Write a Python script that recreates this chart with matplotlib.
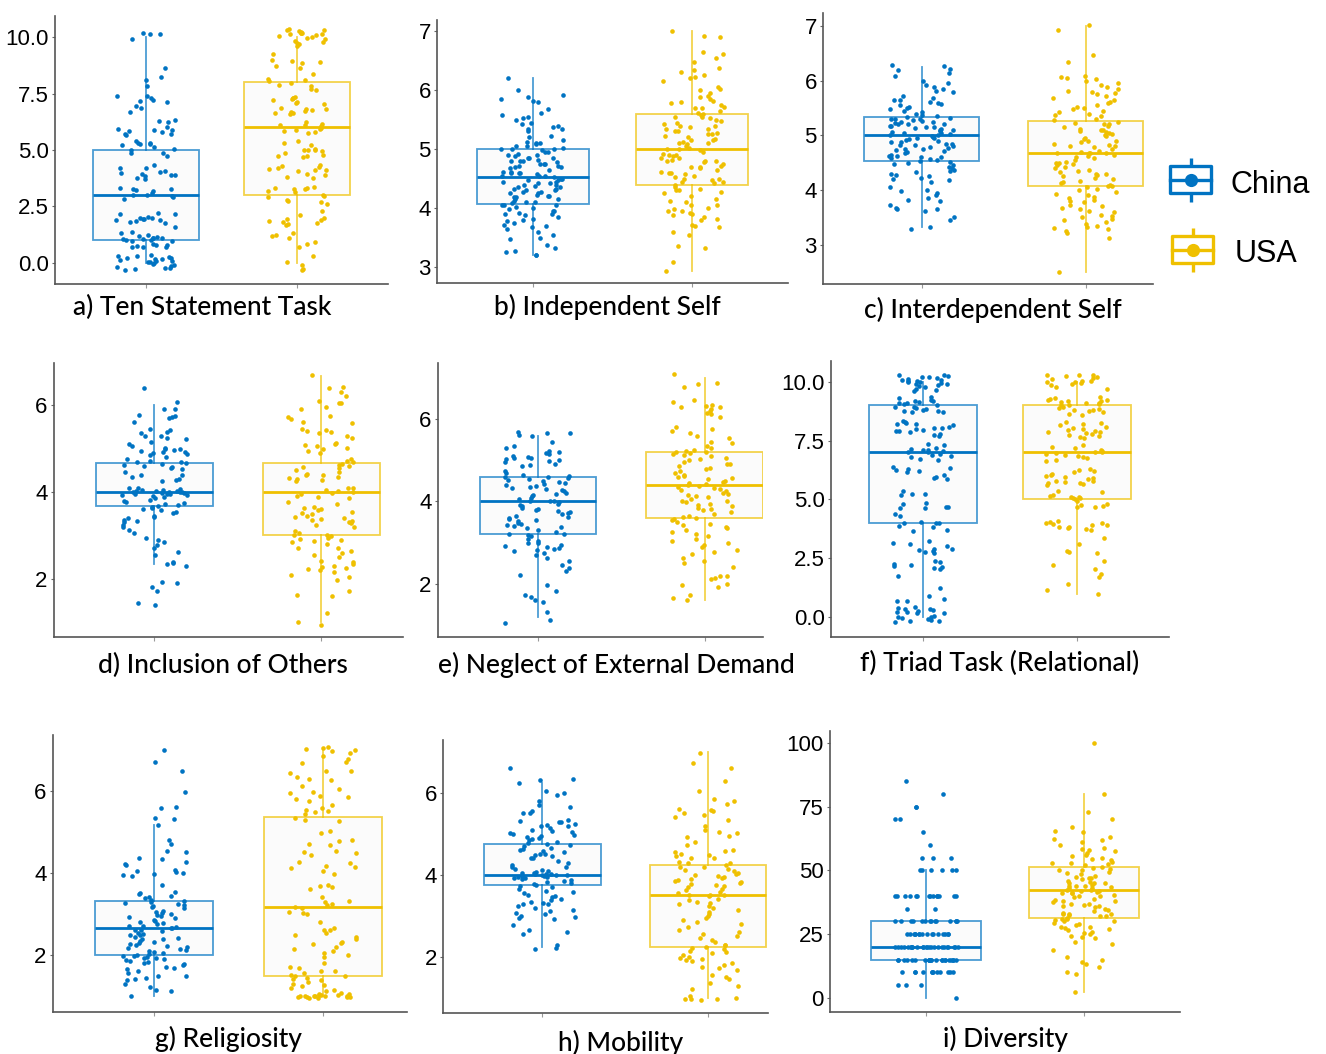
import numpy as np
import matplotlib
matplotlib.use('Agg')
import matplotlib.pyplot as plt
from matplotlib.colors import to_rgba
from matplotlib.patches import Rectangle

china_col = '#0073C2'
usa_col = '#EFC000'
countries = ['China', 'USA']

# box stats per group: lower whisker, q1, median, q3, upper whisker
tst_box_china = [0.0, 1.0, 3.0, 5.0, 10.0]
tst_box_usa = [0.0, 3.0, 6.0, 8.0, 10.0]
ind_box_china = [3.2, 4.07, 4.53, 5.0, 6.2]
ind_box_usa = [2.93, 4.4, 5.0, 5.6, 7.0]
inter_box_china = [3.33, 4.53, 5.0, 5.33, 6.25]
inter_box_usa = [2.5, 4.07, 4.67, 5.27, 7.0]
inc_box_china = [2.33, 3.67, 4.0, 4.67, 6.0]
inc_box_usa = [1.0, 3.0, 4.0, 4.67, 6.67]
neg_box_china = [1.2, 3.2, 4.0, 4.6, 5.6]
neg_box_usa = [1.6, 3.6, 4.4, 5.2, 7.0]
triad_box_china = [0.0, 4.0, 7.0, 9.0, 10.0]
triad_box_usa = [1.0, 5.0, 7.0, 9.0, 10.0]
rel_box_china = [1.0, 2.0, 2.67, 3.33, 5.17]
rel_box_usa = [1.0, 1.5, 3.17, 5.37, 7.0]
mob_box_china = [2.25, 3.75, 4.0, 4.75, 6.25]
mob_box_usa = [1.0, 2.25, 3.5, 4.25, 7.0]
div_box_china = [0.0, 15.0, 20.0, 30.0, 50.0]
div_box_usa = [2.5, 31.5, 42.5, 51.25, 80.0]

# individual responses (jittered vertically as plotted)
tst_china = [10.15, 10.12, 10.2, 9.9, 8.65, 8.25, 8.12, 7.85, 7.4, 7.38, 7.3, 7.2, 7.15, 7.12,
             6.95, 6.85, 6.7, 6.35, 6.3, 6.22, 6.02, 5.95, 5.9, 5.88, 5.85, 5.8, 5.72, 5.7, 5.68,
             5.38, 5.33, 5.3, 5.28, 5.25, 5.2, 5.15, 5.05, 5.02, 4.88, 4.85, 4.72, 4.35, 4.22,
             4.18, 4.05, 4.02, 3.98, 3.92, 3.9, 3.88, 3.85, 3.78, 3.7, 3.3, 3.28, 3.25, 3.22, 3.2,
             3.1, 3.02, 3.0, 2.95, 2.92, 2.85, 2.2, 2.18, 2.15, 2.02, 2.0, 1.98, 1.95, 1.92, 1.9,
             1.88, 1.85, 1.8, 1.78, 1.6, 1.38, 1.32, 1.25, 1.18, 1.15, 1.12, 1.1, 1.08, 1.05,
             1.05, 1.02, 1.0, 0.98, 0.95, 0.82, 0.8, 0.78, 0.75, 0.72, 0.7, 0.68, 0.35, 0.3, 0.28,
             0.25, 0.22, 0.2, 0.18, 0.15, 0.12, 0.1, 0.08, 0.05, 0.02, 0.0, -0.05, -0.1, -0.15,
             -0.2, -0.22, -0.25, -0.28, -0.3]
tst_usa = [10.35, 10.3, 10.3, 10.28, 10.25, 10.2, 10.2, 10.18, 10.15, 10.12, 10.1, 10.05, 10.0,
           9.95, 9.9, 9.85, 9.8, 9.75, 9.7, 9.6, 9.25, 9.0, 8.95, 8.9, 8.85, 8.72, 8.62, 8.35,
           8.15, 8.12, 8.08, 7.95, 7.9, 7.85, 7.7, 7.65, 7.35, 7.3, 7.3, 7.25, 7.2, 7.12, 7.08,
           7.05, 6.85, 6.82, 6.8, 6.78, 6.75, 6.7, 6.65, 6.62, 6.6, 6.25, 6.15, 6.12, 6.1, 6.05,
           5.98, 5.95, 5.9, 5.85, 5.8, 5.75, 5.42, 5.3, 5.22, 5.05, 5.02, 5.0, 4.98, 4.95, 4.85,
           4.8, 4.75, 4.72, 4.7, 4.35, 4.3, 4.25, 4.2, 4.15, 4.12, 4.1, 4.05, 3.95, 3.9, 3.82,
           3.75, 3.35, 3.32, 3.3, 3.28, 3.25, 3.2, 3.15, 3.0, 2.95, 2.92, 2.8, 2.75, 2.7, 2.62,
           2.3, 2.1, 2.0, 1.95, 1.9, 1.85, 1.8, 1.75, 1.72, 1.68, 1.3, 1.25, 1.2, 1.12, 0.9,
           0.85, 0.7, 0.3, 0.02, -0.1, -0.28, -0.3]
ind_china = [6.2, 6.0, 5.92, 5.88, 5.85, 5.82, 5.8, 5.68, 5.62, 5.58, 5.55, 5.52, 5.5, 5.45,
             5.42, 5.4, 5.38, 5.35, 5.35, 5.3, 5.22, 5.2, 5.15, 5.12, 5.1, 5.08, 5.05, 5.05, 5.02,
             5.0, 5.0, 4.98, 4.95, 4.92, 4.9, 4.88, 4.85, 4.85, 4.82, 4.8, 4.8, 4.78, 4.75, 4.75,
             4.72, 4.7, 4.68, 4.65, 4.62, 4.6, 4.6, 4.58, 4.55, 4.55, 4.52, 4.5, 4.48, 4.45, 4.45,
             4.42, 4.4, 4.38, 4.35, 4.33, 4.32, 4.3, 4.28, 4.25, 4.22, 4.2, 4.2, 4.18, 4.15, 4.12,
             4.1, 4.08, 4.05, 4.05, 4.02, 4.0, 3.98, 3.95, 3.95, 3.92, 3.9, 3.88, 3.85, 3.82, 3.8,
             3.78, 3.75, 3.72, 3.7, 3.68, 3.65, 3.6, 3.55, 3.5, 3.48, 3.38, 3.32, 3.28, 3.25, 3.2,
             3.2, 4.95, 4.72, 4.5, 4.42, 4.3, 4.15, 4.6, 4.85, 4.25, 4.4, 5.0, 4.1, 4.35, 4.7, 4.55,
             4.9, 4.62, 4.28, 4.05, 4.8, 4.48, 3.9, 5.1, 4.18, 4.75]
ind_usa = [7.0, 6.92, 6.9, 6.65, 6.62, 6.55, 6.48, 6.38, 6.35, 6.3, 6.25, 6.22, 6.2, 6.15, 6.05,
           6.02, 6.0, 5.95, 5.88, 5.85, 5.82, 5.8, 5.78, 5.75, 5.72, 5.7, 5.65, 5.62, 5.6, 5.58,
           5.55, 5.52, 5.5, 5.48, 5.45, 5.42, 5.4, 5.38, 5.35, 5.3, 5.28, 5.25, 5.22, 5.2, 5.18,
           5.15, 5.12, 5.1, 5.08, 5.05, 5.02, 5.0, 4.98, 4.95, 4.92, 4.9, 4.88, 4.85, 4.82, 4.8,
           4.8, 4.78, 4.75, 4.72, 4.7, 4.68, 4.65, 4.62, 4.6, 4.58, 4.55, 4.52, 4.5, 4.48, 4.45,
           4.42, 4.4, 4.35, 4.33, 4.3, 4.28, 4.25, 4.2, 4.15, 4.12, 4.1, 4.05, 4.0, 3.98, 3.95,
           3.92, 3.9, 3.88, 3.85, 3.82, 3.8, 3.72, 3.7, 3.68, 3.6, 3.55, 3.35, 3.32, 3.08, 2.93,
           5.35, 5.0, 4.7, 5.55, 4.9, 5.25, 4.6, 5.4, 4.45, 5.1, 4.8, 5.7, 4.3, 5.15, 3.95,
           4.05, 5.9, 4.5, 5.3, 4.85]
inter_china = [6.28, 6.27, 6.22, 6.2, 6.15, 6.08, 6.0, 5.95, 5.92, 5.88, 5.85, 5.82, 5.8, 5.72,
               5.68, 5.65, 5.65, 5.62, 5.6, 5.58, 5.55, 5.52, 5.5, 5.48, 5.45, 5.42, 5.4, 5.38,
               5.35, 5.33, 5.32, 5.3, 5.3, 5.28, 5.27, 5.25, 5.22, 5.2, 5.2, 5.18, 5.17, 5.15,
               5.13, 5.12, 5.1, 5.08, 5.07, 5.05, 5.03, 5.0, 5.0, 4.98, 4.97, 4.95, 4.93, 4.92,
               4.9, 4.88, 4.87, 4.85, 4.83, 4.82, 4.8, 4.78, 4.77, 4.75, 4.73, 4.72, 4.7, 4.67,
               4.65, 4.63, 4.62, 4.6, 4.58, 4.57, 4.55, 4.53, 4.52, 4.5, 4.48, 4.45, 4.42, 4.4,
               4.37, 4.35, 4.33, 4.3, 4.28, 4.25, 4.22, 4.2, 4.18, 4.15, 4.05, 4.0, 3.98, 3.95,
               3.9, 3.85, 3.82, 3.8, 3.72, 3.68, 3.65, 3.65, 3.62, 3.5, 3.45, 3.32, 3.28,
               5.25, 5.1, 4.95, 5.3, 5.05, 4.85, 5.2, 4.75, 5.15, 4.6]
inter_usa = [7.02, 6.92, 6.48, 6.35, 6.08, 6.07, 6.05, 6.03, 6.0, 5.95, 5.92, 5.88, 5.85, 5.82,
             5.8, 5.78, 5.75, 5.72, 5.68, 5.65, 5.62, 5.6, 5.55, 5.52, 5.5, 5.48, 5.45, 5.42, 5.4,
             5.38, 5.35, 5.3, 5.28, 5.25, 5.22, 5.2, 5.18, 5.15, 5.12, 5.1, 5.08, 5.07, 5.05,
             5.02, 5.0, 4.98, 4.95, 4.93, 4.9, 4.88, 4.85, 4.82, 4.8, 4.78, 4.75, 4.72, 4.7, 4.68,
             4.67, 4.67, 4.65, 4.63, 4.6, 4.58, 4.55, 4.52, 4.5, 4.48, 4.45, 4.42, 4.4, 4.37,
             4.35, 4.33, 4.3, 4.27, 4.25, 4.22, 4.2, 4.17, 4.15, 4.12, 4.1, 4.08, 4.07, 4.05,
             4.02, 4.0, 3.97, 3.93, 3.9, 3.88, 3.85, 3.82, 3.8, 3.78, 3.72, 3.7, 3.67, 3.65,
             3.62, 3.6, 3.55, 3.52, 3.5, 3.47, 3.45, 3.42, 3.38, 3.35, 3.32, 3.3, 3.28, 3.25,
             3.22, 3.13, 2.5, 4.67, 4.8, 5.1, 4.5, 4.9, 5.2, 4.3]
inc_china = [6.4, 6.08, 5.92, 5.9, 5.78, 5.75, 5.72, 5.7, 5.6, 5.45, 5.42, 5.38, 5.35, 5.3,
             5.28, 5.25, 5.22, 5.15, 5.1, 5.05, 5.02, 5.0, 4.98, 4.97, 4.95, 4.93, 4.92, 4.9,
             4.88, 4.85, 4.8, 4.75, 4.72, 4.7, 4.68, 4.67, 4.65, 4.62, 4.6, 4.58, 4.55, 4.52,
             4.45, 4.4, 4.38, 4.35, 4.3, 4.28, 4.25, 4.1, 4.08, 4.07, 4.05, 4.05, 4.03, 4.02,
             4.02, 4.0, 4.0, 4.0, 3.99, 3.98, 3.97, 3.96, 3.95, 3.95, 3.93, 3.92, 3.9, 3.88, 3.85,
             3.82, 3.8, 3.78, 3.75, 3.72, 3.7, 3.68, 3.65, 3.62, 3.6, 3.58, 3.55, 3.52, 3.45,
             3.42, 3.4, 3.35, 3.32, 3.3, 3.25, 3.2, 3.12, 3.05, 2.95, 2.9, 2.85, 2.78, 2.7, 2.62,
             2.55, 2.38, 2.37, 2.35, 2.3, 1.93, 1.9, 1.82, 1.72, 1.45, 1.4]
inc_usa = [6.7, 6.42, 6.4, 6.3, 6.22, 6.1, 6.05, 6.05, 5.95, 5.92, 5.75, 5.72, 5.68, 5.6, 5.58,
           5.45, 5.42, 5.4, 5.38, 5.35, 5.3, 5.25, 5.12, 5.1, 5.08, 5.05, 5.02, 4.98, 4.95, 4.9,
           4.75, 4.72, 4.7, 4.65, 4.62, 4.6, 4.58, 4.55, 4.5, 4.45, 4.42, 4.4, 4.38, 4.35, 4.32,
           4.3, 4.28, 4.25, 4.1, 4.08, 4.05, 4.02, 4.0, 3.98, 3.95, 3.9, 3.88, 3.85, 3.78, 3.72,
           3.65, 3.62, 3.6, 3.58, 3.55, 3.52, 3.5, 3.45, 3.42, 3.4, 3.38, 3.35, 3.32, 3.3, 3.28,
           3.25, 3.2, 3.1, 3.05, 3.02, 3.0, 2.98, 2.95, 2.92, 2.9, 2.88, 2.85, 2.8, 2.72, 2.7,
           2.65, 2.6, 2.55, 2.5, 2.42, 2.38, 2.35, 2.3, 2.28, 2.25, 2.22, 2.2, 2.15, 2.08, 2.05,
           1.98, 1.72, 1.62, 1.6, 1.22, 1.0, 0.93]
neg_china = [5.68, 5.67, 5.65, 5.62, 5.6, 5.45, 5.35, 5.3, 5.22, 5.2, 5.18, 5.15, 5.1, 5.08,
             5.05, 5.05, 5.02, 5.0, 4.98, 4.95, 4.9, 4.88, 4.85, 4.75, 4.7, 4.65, 4.62, 4.6, 4.6,
             4.58, 4.55, 4.52, 4.5, 4.48, 4.45, 4.42, 4.4, 4.38, 4.35, 4.32, 4.3, 4.28, 4.25, 4.2,
             4.18, 4.15, 4.12, 4.08, 4.05, 4.02, 4.0, 4.0, 3.98, 3.95, 3.92, 3.9, 3.85, 3.82, 3.8,
             3.78, 3.75, 3.72, 3.7, 3.65, 3.62, 3.6, 3.58, 3.55, 3.52, 3.48, 3.45, 3.42, 3.4,
             3.38, 3.35, 3.3, 3.25, 3.22, 3.2, 3.18, 3.15, 3.1, 3.05, 3.0, 2.98, 2.95, 2.92, 2.9,
             2.88, 2.85, 2.82, 2.8, 2.75, 2.7, 2.62, 2.55, 2.45, 2.38, 2.32, 2.22, 1.98, 1.82,
             1.72, 1.68, 1.6, 1.55, 1.32, 1.12, 1.05]
neg_usa = [7.1, 6.88, 6.85, 6.78, 6.45, 6.42, 6.35, 6.32, 6.3, 6.28, 6.25, 6.2, 6.15, 6.12, 6.05,
           5.8, 5.75, 5.7, 5.65, 5.6, 5.55, 5.45, 5.42, 5.35, 5.3, 5.25, 5.22, 5.2, 5.2, 5.18,
           5.15, 5.12, 5.1, 5.05, 5.02, 5.0, 4.95, 4.92, 4.9, 4.85, 4.8, 4.78, 4.75, 4.7, 4.65,
           4.62, 4.6, 4.58, 4.55, 4.5, 4.48, 4.45, 4.42, 4.4, 4.38, 4.35, 4.32, 4.3, 4.28, 4.25,
           4.2, 4.18, 4.15, 4.12, 4.1, 4.05, 4.02, 4.0, 3.98, 3.95, 3.92, 3.9, 3.85, 3.82, 3.8,
           3.75, 3.7, 3.65, 3.62, 3.6, 3.58, 3.55, 3.5, 3.45, 3.42, 3.38, 3.35, 3.3, 3.25, 3.2,
           3.15, 3.1, 3.05, 3.0, 2.95, 2.9, 2.82, 2.78, 2.72, 2.62, 2.55, 2.5, 2.42, 2.2, 2.18,
           2.15, 2.12, 2.0, 1.98, 1.92, 1.72, 1.65, 1.62]
triad_china = [10.3, 10.3, 10.25, 10.2, 10.2, 10.15, 10.12, 10.1, 10.08, 10.05, 10.02, 10.0,
               9.98, 9.95, 9.92, 9.9, 9.85, 9.82, 9.8, 9.7, 9.65, 9.6, 9.35, 9.3, 9.25, 9.2,
               9.18, 9.15, 9.12, 9.1, 9.05, 9.0, 8.95, 8.92, 8.9, 8.85, 8.8, 8.78, 8.75, 8.72,
               8.7, 8.35, 8.3, 8.25, 8.22, 8.2, 8.15, 8.1, 8.05, 8.02, 8.0, 7.95, 7.92, 7.9, 7.85,
               7.8, 7.75, 7.72, 7.35, 7.3, 7.2, 7.15, 7.12, 7.1, 7.05, 7.02, 7.0, 6.95, 6.9, 6.85,
               6.8, 6.72, 6.68, 6.4, 6.35, 6.3, 6.25, 6.2, 6.15, 6.05, 5.95, 5.9, 5.88, 5.35,
               5.25, 5.22, 5.2, 4.85, 4.82, 4.7, 4.68, 4.65, 4.62, 4.4, 4.3, 4.05, 4.02, 4.0,
               3.98, 3.88, 3.82, 3.7, 3.68, 3.25, 3.15, 3.12, 3.0, 2.9, 2.88, 2.85, 2.8, 2.78,
               2.72, 2.4, 2.35, 2.25, 2.2, 2.15, 2.12, 2.1, 2.05, 1.75, 1.25, 0.9, 0.75, 0.7, 0.68,
               0.42, 0.38, 0.35, 0.32, 0.3, 0.25, 0.22, 0.2, 0.18, 0.15, 0.05, 0.02, 0.0, -0.05,
               -0.1, -0.12, -0.15, -0.18, -0.2]
triad_usa = [10.3, 10.3, 10.28, 10.25, 10.2, 10.15, 10.12, 10.05, 10.02, 10.0, 9.98, 9.95, 9.92,
             9.85, 9.8, 9.72, 9.35, 9.3, 9.28, 9.25, 9.22, 9.2, 9.18, 9.15, 9.12, 9.1, 9.05,
             9.02, 9.0, 8.95, 8.9, 8.85, 8.82, 8.8, 8.75, 8.7, 8.65, 8.6, 8.3, 8.25, 8.2, 8.15,
             8.1, 8.05, 8.0, 7.95, 7.9, 7.88, 7.85, 7.82, 7.8, 7.75, 7.7, 7.65, 7.6, 7.3, 7.25,
             7.2, 7.1, 7.05, 7.02, 7.0, 6.98, 6.95, 6.9, 6.85, 6.8, 6.75, 6.7, 6.65, 6.3, 6.25,
             6.2, 6.15, 6.1, 6.05, 6.0, 5.95, 5.9, 5.85, 5.8, 5.78, 5.75, 5.72, 5.7, 5.65, 5.6,
             5.35, 5.3, 5.2, 5.15, 5.12, 5.1, 5.08, 5.05, 5.02, 4.95, 4.8, 4.75, 4.72, 4.7, 4.68,
             4.1, 4.05, 4.0, 3.98, 3.95, 3.92, 3.9, 3.85, 3.82, 3.78, 3.75, 3.72, 3.35, 3.1, 2.8,
             2.78, 2.72, 2.4, 2.2, 2.05, 1.85, 1.7, 1.4, 1.15, 0.98]
rel_china = [7.0, 6.72, 6.48, 5.98, 5.62, 5.6, 5.35, 5.32, 5.18, 4.8, 4.72, 4.55, 4.52, 4.38, 4.35,
             4.28, 4.22, 4.2, 4.08, 4.05, 4.02, 4.0, 3.98, 3.95, 3.92, 3.72, 3.55, 3.52, 3.48,
             3.45, 3.42, 3.38, 3.35, 3.32, 3.3, 3.28, 3.25, 3.22, 3.2, 3.18, 3.15, 3.08, 3.05,
             3.02, 3.0, 2.98, 2.95, 2.92, 2.9, 2.85, 2.82, 2.8, 2.78, 2.75, 2.72, 2.7, 2.68, 2.66,
             2.65, 2.62, 2.6, 2.58, 2.55, 2.52, 2.5, 2.48, 2.45, 2.42, 2.4, 2.38, 2.35, 2.32, 2.3,
             2.28, 2.25, 2.22, 2.2, 2.18, 2.15, 2.12, 2.1, 2.08, 2.05, 2.02, 2.0, 1.98, 1.97,
             1.95, 1.93, 1.92, 1.9, 1.88, 1.85, 1.82, 1.8, 1.78, 1.75, 1.72, 1.68, 1.65, 1.62,
             1.55, 1.5, 1.48, 1.45, 1.42, 1.38, 1.3, 1.22, 1.15, 1.12, 1.0]
rel_usa = [7.08, 7.05, 7.02, 7.0, 6.98, 6.92, 6.85, 6.78, 6.72, 6.68, 6.5, 6.48, 6.45, 6.35, 6.3,
           6.28, 6.12, 6.05, 5.98, 5.95, 5.88, 5.85, 5.8, 5.75, 5.65, 5.6, 5.55, 5.52, 5.48, 5.45,
           5.35, 5.3, 5.28, 5.02, 4.98, 4.8, 4.78, 4.7, 4.68, 4.55, 4.52, 4.5, 4.45, 4.28, 4.25,
           4.18, 4.15, 4.12, 4.05, 3.98, 3.72, 3.68, 3.65, 3.62, 3.42, 3.32, 3.3, 3.25, 3.22,
           3.18, 3.15, 3.05, 3.02, 3.0, 2.8, 2.65, 2.62, 2.6, 2.55, 2.5, 2.45, 2.38, 2.32, 2.3,
           2.28, 2.2, 2.15, 2.1, 2.05, 2.0, 1.95, 1.8, 1.72, 1.68, 1.62, 1.6, 1.55, 1.52, 1.5,
           1.48, 1.45, 1.42, 1.38, 1.35, 1.3, 1.28, 1.25, 1.2, 1.15, 1.12, 1.08, 1.05, 1.03,
           1.02, 1.01, 1.0, 1.0, 0.99, 0.98, 0.98, 0.97, 0.96, 0.95, 1.02, 1.0, 0.97, 1.04, 0.99]
mob_china = [6.6, 6.35, 6.32, 6.25, 6.05, 6.0, 5.95, 5.8, 5.7, 5.65, 5.55, 5.52, 5.5, 5.35, 5.32,
             5.3, 5.28, 5.25, 5.22, 5.2, 5.18, 5.15, 5.1, 5.08, 5.05, 5.02, 5.0, 4.98, 4.95, 4.92,
             4.9, 4.88, 4.85, 4.8, 4.78, 4.75, 4.72, 4.7, 4.65, 4.62, 4.6, 4.58, 4.55, 4.52, 4.5,
             4.48, 4.45, 4.42, 4.4, 4.35, 4.3, 4.25, 4.2, 4.18, 4.15, 4.12, 4.1, 4.08, 4.05, 4.04,
             4.03, 4.02, 4.01, 4.0, 4.0, 3.99, 3.98, 3.97, 3.96, 3.95, 3.93, 3.92, 3.9, 3.88,
             3.85, 3.82, 3.8, 3.78, 3.75, 3.72, 3.7, 3.65, 3.6, 3.58, 3.55, 3.5, 3.48, 3.45, 3.42,
             3.38, 3.35, 3.32, 3.3, 3.28, 3.25, 3.2, 3.15, 3.12, 3.08, 3.05, 3.0, 2.98, 2.95,
             2.92, 2.78, 2.65, 2.6, 2.55, 2.28, 2.22, 2.18]
mob_usa = [6.98, 6.72, 6.6, 6.3, 6.05, 5.85, 5.8, 5.72, 5.6, 5.58, 5.55, 5.5, 5.45, 5.4, 5.35, 5.2,
           5.1, 5.05, 5.02, 4.95, 4.92, 4.8, 4.72, 4.6, 4.58, 4.55, 4.5, 4.48, 4.45, 4.42, 4.4,
           4.32, 4.3, 4.28, 4.25, 4.2, 4.18, 4.15, 4.12, 4.1, 4.05, 4.02, 4.0, 3.98, 3.95, 3.92,
           3.9, 3.88, 3.85, 3.82, 3.8, 3.78, 3.75, 3.72, 3.7, 3.65, 3.62, 3.58, 3.55, 3.52, 3.51,
           3.5, 3.48, 3.42, 3.38, 3.35, 3.32, 3.28, 3.25, 3.2, 3.15, 3.1, 3.05, 3.0, 2.95, 2.9,
           2.85, 2.8, 2.72, 2.65, 2.6, 2.55, 2.5, 2.45, 2.4, 2.35, 2.3, 2.28, 2.25, 2.22, 2.18,
           2.15, 2.12, 2.1, 2.05, 2.0, 1.98, 1.95, 1.92, 1.9, 1.85, 1.8, 1.75, 1.72, 1.68, 1.55,
           1.5, 1.45, 1.35, 1.28, 1.22, 1.05, 1.0, 0.98, 0.97, 0.96, 0.95]
div_china = ([85, 80, 75, 75, 70, 70, 65, 60, 55, 55, 55] + [50] * 6 + [40] * 14 + [35] * 2
             + [30] * 14 + [25] * 16 + [20] * 25 + [15] * 22 + [10] * 12 + [5] * 3 + [0])
div_usa = [100, 80, 73, 70, 67, 65.5, 65, 63, 62.5, 62, 61, 60, 59, 58.5, 58, 57.5, 57, 56, 55.5,
           55, 54.5, 54, 53.5, 53, 52.5, 52, 51.5, 51, 50.5, 50, 49.5, 49, 48.5, 48, 47.5, 47,
           46.5, 46, 45.5, 45, 45, 44.5, 44, 44, 43.5, 43, 43, 42.5, 42.5, 42, 42, 41.5, 41, 41,
           40.5, 40, 40, 39.5, 39, 38.5, 38, 37.5, 37, 37, 36.5, 36, 35.5, 35, 34.5, 34, 33.5,
           33, 33, 32.5, 32, 32, 31.5, 31, 31, 30.5, 30, 29.5, 29, 28.5, 28, 28, 27.5, 27, 26.5,
           26, 25.5, 25, 24.5, 24, 23.5, 22, 21, 19, 16, 15, 14, 13.5, 12, 10, 9.5, 2.5,
           45, 38, 50, 33, 47, 41, 36, 53, 30, 44]

W, H = 1326, 1054
fig = plt.figure(figsize=(W / 100, H / 100), dpi=100)

ten_ticks = ([0, 2.5, 5, 7.5, 10], ['0.0', '2.5', '5.0', '7.5', '10.0'])
seven_ticks = ([3, 4, 5, 6, 7], ['3', '4', '5', '6', '7'])
even_ticks = ([2, 4, 6], ['2', '4', '6'])
div_ticks = ([0, 25, 50, 75, 100], ['0', '25', '50', '75', '100'])

# panel layout in pixels: (left, right, top, bottom), xlim, ylim, title centre x, title baseline y
panels = [
    ('a) Ten Statement Task', tst_china, tst_usa, tst_box_china, tst_box_usa, ten_ticks,
     (55, 388, 16, 284), (0.4, 2.6), (-0.94, 10.94), 202, 315),
    ('b) Independent Self', ind_china, ind_usa, ind_box_china, ind_box_usa, seven_ticks,
     (437, 788, 20, 283), (0.4, 2.6), (2.73, 7.19), 607, 315),
    ('c) Interdependent Self', inter_china, inter_usa, inter_box_china, inter_box_usa, seven_ticks,
     (823, 1153, 13, 284), (0.4, 2.41), (2.28, 7.24), 993, 318),
    ('d) Inclusion of Others', inc_china, inc_usa, inc_box_china, inc_box_usa, even_ticks,
     (54, 403, 363, 637), (0.4, 2.49), (0.66, 6.97), 223, 673),
    ('e) Neglect of External Demand', neg_china, neg_usa, neg_box_china, neg_box_usa, even_ticks,
     (438, 763, 363, 637), (0.4, 2.35), (0.71, 7.36), 616, 673),
    ('f) Triad Task (Relational)', triad_china, triad_usa, triad_box_china, triad_box_usa, ten_ticks,
     (831, 1169, 361, 637), (0.4, 2.6), (-0.85, 10.89), 1000, 671),
    ('g) Religiosity', rel_china, rel_usa, rel_box_china, rel_box_usa, even_ticks,
     (53, 407, 735, 1012), (0.4, 2.5), (0.61, 7.37), 228, 1047),
    ('h) Mobility', mob_china, mob_usa, mob_box_china, mob_box_usa, even_ticks,
     (443, 768, 740, 1013), (0.4, 2.36), (0.63, 7.29), 621, 1051),
    ('i) Diversity', div_china, div_usa, div_box_china, div_box_usa, div_ticks,
     (830, 1180, 731, 1012), (0.39, 2.61), (-5.5, 104.7), 1005, 1047),
]


def spread(n, seed, w=0.2):
    # scattered horizontal offsets (hash of the point index) around the category centre
    k = np.arange(n) + seed
    h = np.sin(k * 12.9898 + seed * 78.233) * 43758.5453
    return (h - np.floor(h) - 0.5) * 2 * w


for i, (title, pc, pu, bc, bu, ticks, box, xlim, ylim, tx, ty) in enumerate(panels):
    x0, x1, y0, y1 = box
    ax = fig.add_axes([x0 / W, 1 - y1 / H, (x1 - x0) / W, (y1 - y0) / H])
    for pos, b, pts, col in [(1, bc, pc, china_col), (2, bu, pu, usa_col)]:
        st = dict(whislo=b[0], q1=b[1], med=b[2], q3=b[3], whishi=b[4], fliers=[])
        light = to_rgba(col, 0.7)
        ax.bxp([st], positions=[pos], widths=0.7, patch_artist=True, showcaps=False,
               showfliers=False, manage_ticks=False,
               boxprops=dict(facecolor='#fbfbfb', edgecolor=light, linewidth=1.3),
               whiskerprops=dict(color=light, linewidth=1.3),
               medianprops=dict(color=col, linewidth=2.0))
        vals = np.asarray(pts, dtype=float)
        ax.scatter(pos + spread(len(vals), 3 * i + pos), vals, s=11, color=col,
                   linewidths=0, zorder=3)
    ax.set_xlim(*xlim)
    ax.set_ylim(*ylim)
    ax.set_xticks([1, 2])
    ax.set_xticklabels([])
    ax.set_yticks(ticks[0])
    ax.set_yticklabels(ticks[1])
    ax.tick_params(axis='x', length=3, width=0.8, color='#999999')
    ax.tick_params(axis='y', length=2.5, width=0.8, color='#666666', labelsize=16,
                   labelcolor='black', pad=2)
    for lab in ax.get_yticklabels():
        lab.set_family('Liberation Sans')
    for s in ['top', 'right']:
        ax.spines[s].set_visible(False)
    for s in ['left', 'bottom']:
        ax.spines[s].set_color('#555555')
        ax.spines[s].set_linewidth(1.2)
    ax.patch.set_alpha(0)
    fig.text(tx / W, 1 - ty / H, title, ha='center', va='baseline', fontsize=19,
             family='Lato', fontweight='medium', color='black')

# legend keys drawn in pixel coordinates
lax = fig.add_axes([0, 0, 1, 1])
lax.set_xlim(0, W)
lax.set_ylim(H, 0)
lax.axis('off')
lax.patch.set_alpha(0)
legend_keys = [(china_col, 1170, 1211, 166, 193, 158, 202, 'China', 1230, 193),
               (usa_col, 1172, 1213, 236, 263, 228, 272, 'USA', 1235, 262)]
for col, lx0, lx1, ly0, ly1, wy0, wy1, name, txx, txy in legend_keys:
    cx = (lx0 + lx1) / 2
    cy = (ly0 + ly1) / 2
    lax.plot([cx, cx], [wy0, ly0], color=col, lw=2.4, solid_capstyle='butt')
    lax.plot([cx, cx], [ly1, wy1], color=col, lw=2.4, solid_capstyle='butt')
    lax.add_patch(Rectangle((lx0, ly0), lx1 - lx0, ly1 - ly0, facecolor='white',
                            edgecolor=col, lw=2.4, joinstyle='round'))
    lax.plot([lx0, lx1], [cy, cy], color=col, lw=2.4)
    lax.plot([cx], [cy], 'o', color=col, markersize=9.5, markeredgewidth=0)
    fig.text(txx / W, 1 - txy / H, name, ha='left', va='baseline', fontsize=22,
             family='Liberation Sans', color='black')

fig.savefig('out.png', dpi=100)
